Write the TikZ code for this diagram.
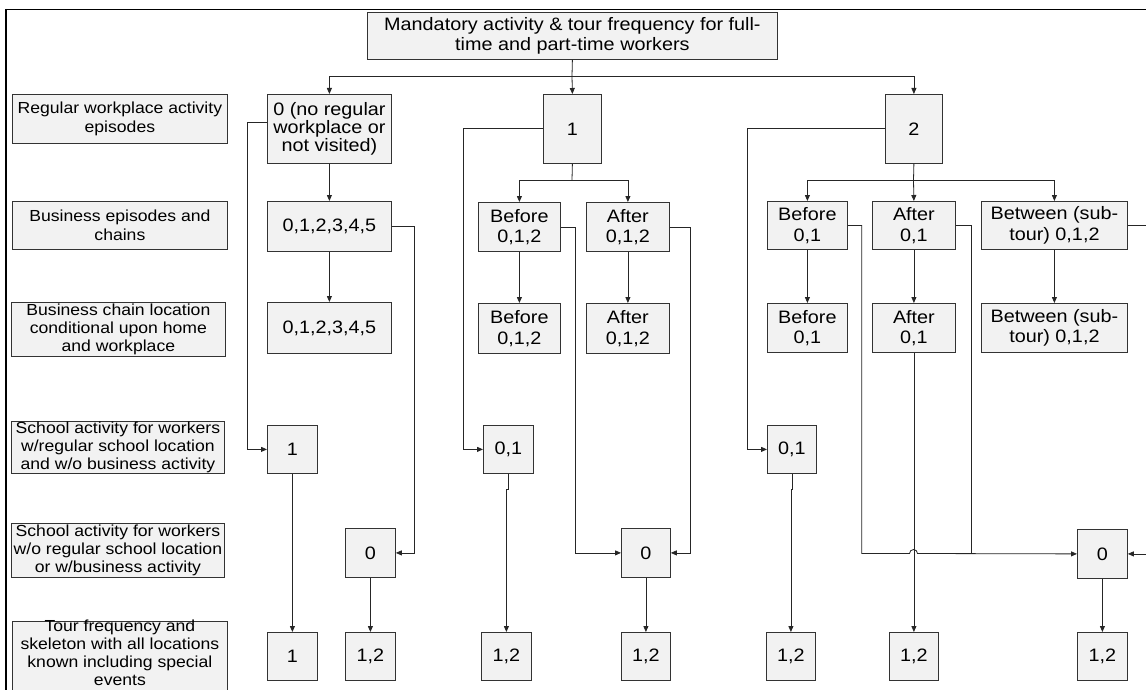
\documentclass[tikz,border=0pt]{standalone}
\usepackage{fontspec}
\setmainfont{Liberation Sans}[FakeStretch=1.1]
\usetikzlibrary{arrows.meta}

\definecolor{boxfill}{HTML}{F2F2F2}
\definecolor{boxedge}{HTML}{333333}

\newcommand\boxtext{\fontsize{18}{20.5}\selectfont}
\newcommand\sidetext{\fontsize{16}{18.3}\selectfont}

% \boxat[options]{name}{x1}{y1}{x2}{y2}{text};  -- box given by its corners
\newcommand\boxat[6][]{\node[bx,#1,anchor=north west,
  minimum width={(#5-#3)*1pt},minimum height={(#6-#4)*1pt}] (#2) at (#3,#4)}

\tikzset{
  bx/.style={draw=boxedge, fill=boxfill, line width=0.8pt, inner sep=0pt,
             align=center, font=\boxtext},
  lbl/.style={font=\sidetext},
  wire/.style={draw=black!85, line width=0.8pt},
  arr/.style={wire, -{Triangle[length=6pt,width=5pt]}},
}

\begin{document}
\begin{tikzpicture}[x=1pt,y=-1pt]
\useasboundingbox (0,0) rectangle (1146,690);
\fill[white] (0,0) rectangle (1146,690);
\clip (0,0) rectangle (1146,690);

% outer frame
\draw[line width=0.8pt] (6,9.5) -- (1146,9.5);
\draw[line width=1.6pt] (6,9) -- (6,690);

% root
\boxat{T}{367}{12}{777}{59} {Mandatory activity \& tour frequency for full-\\time and part-time workers};

% row captions
\boxat[lbl]{L1}{12}{94}{227}{143} {Regular workplace activity\\episodes};
\boxat[lbl]{L2}{12}{201}{227}{249} {Business episodes and\\chains};
\boxat[lbl]{L3}{11}{302}{225}{356} {Business chain location\\conditional upon home\\and workplace};
\boxat[lbl]{L4}{11}{421}{224}{473} {School activity for workers\\w/regular school location\\and w/o business activity};
\boxat[lbl]{L5}{11}{523}{224}{577} {School activity for workers\\w/o regular school location\\or w/business activity};
% the last caption box runs past the lower edge; its text hangs from the top
\boxat{L6}{12}{621}{227}{705} {};
\node[lbl, align=center, inner sep=0pt, anchor=north,
      font=\fontsize{16}{17.8}\selectfont] (L6t) at ([yshift=1pt]L6.north)
  {Tour frequency and\\skeleton with all locations\\known including special\\events};

% branch: no regular workplace
\boxat[font=\fontsize{18}{18.3}\selectfont]{A0}{267}{94}{391}{163} {0 (no regular\\workplace or\\not visited)};
\boxat{A1}{267}{201}{391}{251} {0,1,2,3,4,5};
\boxat{A2}{267}{302}{391}{353} {0,1,2,3,4,5};
\boxat{A3}{267}{425}{317}{473} {1};
\boxat{A4}{345}{528}{395}{577} {0};
\boxat{A5}{267}{632}{317}{680} {1};
\boxat{A6}{345}{632}{395}{680} {1,2};

% branch: one workplace episode
\boxat{B0}{543}{94}{601}{163} {1};
\boxat{BB1}{478}{202}{560}{251} {Before\\0,1,2};
\boxat{BA1}{586}{202}{669}{251} {After\\0,1,2};
\boxat{BB2}{478}{303}{560}{353} {Before\\0,1,2};
\boxat{BA2}{586}{303}{669}{353} {After\\0,1,2};
\boxat{B3}{483}{425}{533}{473} {0,1};
\boxat{B4}{621}{528}{670}{577} {0};
\boxat{B5}{481}{632}{531}{680} {1,2};
\boxat{B6}{621}{632}{670}{680} {1,2};

% branch: two workplace episodes
\boxat{C0}{885}{94}{942}{163} {2};
\boxat{CB1}{767}{201}{847}{249} {Before\\0,1};
\boxat{CA1}{872}{201}{955}{249} {After\\0,1};
\boxat{CW1}{981}{201}{1127}{249} {Between (sub-\\tour) 0,1,2};
\boxat{CB2}{767}{303}{847}{352} {Before\\0,1};
\boxat{CA2}{872}{303}{955}{352} {After\\0,1};
\boxat{CW2}{981}{303}{1127}{352} {Between (sub-\\tour) 0,1,2};
\boxat{C3}{767}{425}{816}{473} {0,1};
\boxat{C4}{1077}{529}{1127}{578} {0};
\boxat{C5}{766}{632}{815}{680} {1,2};
\boxat{C6}{889}{632}{938}{680} {1,2};
\boxat{C7}{1077}{632}{1127}{680} {1,2};

% root fan-out
\coordinate (j0) at (572,76);
\draw[wire] (T.south) -- (j0);
\draw[arr] (j0) -| (A0.north);
\draw[arr] (j0) -- (B0.north);
\draw[arr] (j0) -| (C0.north);

% connectors, no regular workplace
\draw[arr] (A0.south) -- (A1.north);
\draw[arr] (A1.south) -- (A2.north);
\draw[arr] ([yshift=6.5pt]A0.west) -- ++(-20,0) |- (A3.west);
\draw[arr] (A1.east) -- ++(23,0) |- (A4.east);
\draw[arr] (A3.south) -- (A5.north);
\draw[arr] (A4.south) -- (A6.north);

% connectors, one workplace episode
\draw[arr] (B0.west) -- ++(-80,0) |- (B3.west);
\coordinate (j1) at (572,180);
\draw[wire] (B0.south) -- (j1);
\draw[arr] (j1) -| (BB1.north);
\draw[arr] (j1) -| (BA1.north);
\draw[arr] (BB1.south) -- (BB2.north);
\draw[arr] (BA1.south) -- (BA2.north);
\draw[arr] (BB1.east) -- ++(15,0) |- (B4.west);
\draw[arr] (BA1.east) -- ++(21,0) |- (B4.east);
\draw[arr] (B3.south) -- ++(0,16) -| (B5.north);
\draw[arr] (B4.south) -- (B6.north);

% connectors, two workplace episodes
\draw[arr] (C0.west) -- ++(-138,0) |- (C3.west);
\coordinate (j2) at (913.5,180);
\draw[wire] (C0.south) -- (j2);
\draw[arr] (j2) -| (CB1.north);
\draw[arr] (j2) -- (CA1.north);
\draw[arr] (j2) -| (CW1.north);
\draw[arr] (CB1.south) -- (CB2.north);
\draw[arr] (CA1.south) -- (CA2.north);
\draw[arr] (CW1.south) -- (CW2.north);
\draw[arr] (CA2.south) -- (C6.north);
\draw[arr] (C3.south) -- ++(0,16) -| (C5.north);
\draw[arr] (C4.south) -- (C7.north);
\coordinate (hop) at (913.5,553.5);
\coordinate (mrg) at (971,553.5);
\draw[arr] (CB1.east) -- ++(14,0) |- ([xshift=-4pt]hop)
  arc[start angle=180, end angle=0, radius=4pt] -- (C4.west);
\draw[wire] (CA1.east) -| (mrg);
\draw[arr] (CW1.east) -- ++(25,0) |- (C4.east);
\end{tikzpicture}
\end{document}
